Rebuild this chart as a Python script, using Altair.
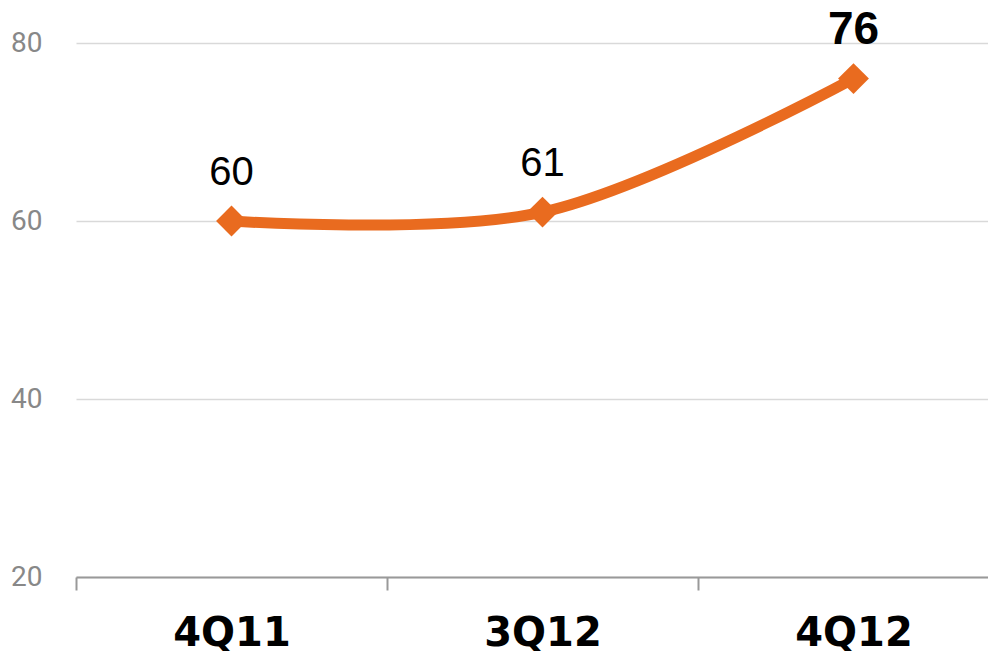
import altair as alt
import pandas as pd

quarters = ["4Q11", "3Q12", "4Q12"]
values = [60, 61, 76]
highlight = [False, False, True]

df = pd.DataFrame({"quarter": quarters, "value": values, "hl": highlight})

ORANGE = "#E96B1F"

x = alt.X(
    "quarter:N",
    sort=quarters,
    scale=alt.Scale(type="band", paddingInner=0, paddingOuter=0, range=[0, 933]),
    axis=alt.Axis(
        title=None,
        labelAngle=0,
        labelFont="DejaVu Sans",
        labelFontWeight="bold",
        labelFontSize=40,
        labelColor="#000000",
        labelPadding=23,
        tickBand="extent",
        tickSize=13,
        tickWidth=2,
        tickColor="#999999",
        domainColor="#999999",
        domainWidth=2,
        grid=False,
    ),
)
y = alt.Y(
    "value:Q",
    scale=alt.Scale(domain=[20, 80], nice=False, zero=False),
    axis=alt.Axis(
        title=None,
        values=[20, 40, 60, 80],
        labelFont="Roboto",
        labelFontSize=28,
        labelColor="#888888",
        labelPadding=34,
        ticks=False,
        domain=False,
        grid=True,
        gridColor="#d9d9d9",
        gridWidth=1.5,
    ),
)

base = alt.Chart(df).encode(x=x, y=y)

line = base.mark_line(color=ORANGE, strokeWidth=11, interpolate="catmull-rom")
pts = base.mark_point(shape="diamond", size=950, filled=True, color=ORANGE, opacity=1)
txt_norm = base.transform_filter("!datum.hl").mark_text(
    font="Liberation Sans", fontSize=40, color="#000000", dy=-48, baseline="middle"
).encode(text="value:Q")
txt_bold = base.transform_filter("datum.hl").mark_text(
    font="Liberation Sans", fontSize=46, fontWeight="bold", color="#000000", dy=-49, baseline="middle"
).encode(text="value:Q")

chart = (
    alt.layer(line, pts, txt_norm, txt_bold)
    .properties(
        width=912,
        height=534,
        autosize=alt.AutoSizeParams(type="none"),
        padding={"left": 68, "top": 35, "right": 0, "bottom": 74},
    )
    .configure_view(stroke=None)
)

chart.save("out.html", embed_options={"renderer": "svg", "actions": False})
